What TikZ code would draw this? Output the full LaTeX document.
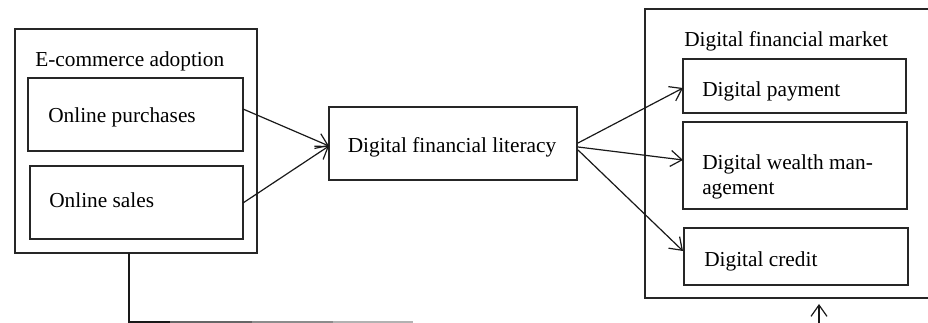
\documentclass[tikz,border=0pt]{standalone}
\usepackage{fontspec}
\setmainfont{Liberation Serif}
\usetikzlibrary{arrows.meta,fit}
\begin{document}
\begin{tikzpicture}[x=0.75pt,y=-0.75pt,
  box/.style={draw=black!85,line width=1pt,inner sep=0pt},
  txt/.style={inner sep=0pt,font=\fontsize{16}{18.75}\selectfont},
  lbl/.style={txt,anchor=west,align=left},
  conn/.style={draw=black!90,line width=0.9pt},
  arr/.style={conn,-{Straight Barb[length=8.5pt,width=12pt,line width=0.9pt]}}]
\clip (0,0) rectangle (928,323);
\fill[white] (0,0) rectangle (928,323);
% left group
\node[box,fit={(15,29) (257,253)}] (ecom) {};
\node[lbl] (ecomt) at (35,61) {E-commerce adoption};
\node[box,fit={(28,78) (243,151)}] (purch) {};
\node[lbl] (purcht) at (48,117) {Online purchases};
\node[box,fit={(30,166) (243,239)}] (sales) {};
\node[lbl] (salest) at (49,200) {Online sales};
% middle
\node[box,fit={(329,107) (577,180)}] (lit) {};
\node[txt] (litt) at (452,147) {Digital financial literacy};
% right group
\node[box,fit={(645,9) (940,298)}] (market) {};
\node[lbl] (markett) at (684,41) {Digital financial market};
\node[box,fit={(683,59) (906,113)}] (pay) {};
\node[lbl] (payt) at (702,91) {Digital payment};
\node[box,fit={(683,122) (907,209)}] (wealth) {};
\node[lbl] (wealtht) at (702,176.5) {Digital wealth man-\\agement};
\node[box,fit={(684,228) (908,285)}] (credit) {};
\node[lbl] (creditt) at (704,261) {Digital credit};
% connectors
\coordinate (pe) at (243,109);
\coordinate (se) at (243,203);
\coordinate (lw) at (329,146);
\draw[arr] (pe) -- (lw);
\draw[arr] (se) -- (lw);
\coordinate (l1) at (578,143);
\coordinate (l2) at (578,147);
\coordinate (l3) at (578,150);
\coordinate (p1) at (683,88);
\coordinate (w1) at (683,160);
\coordinate (c1) at (683,251);
\draw[arr] (l1) -- (p1);
\draw[arr] (l2) -- (w1);
\draw[arr] (l3) -- (c1);
% bottom feedback line (fading)
\coordinate (b0) at (129,253);
\coordinate (b1) at (129,322);
\coordinate (b2) at (170,322);
\coordinate (b3) at (252,322);
\coordinate (b4) at (333,322);
\coordinate (b5) at (413,322);
\draw[conn] (b0) -- (b1) -- (b2);
\draw[conn,draw=black!60] (b2) -- (b3);
\draw[conn,draw=black!45] (b3) -- (b4);
\draw[conn,draw=black!30] (b4) -- (b5);
\coordinate (u0) at (819,326);
\coordinate (u1) at (819,304);
\draw[arr] (u0) -- (u1);
\end{tikzpicture}
\end{document}
